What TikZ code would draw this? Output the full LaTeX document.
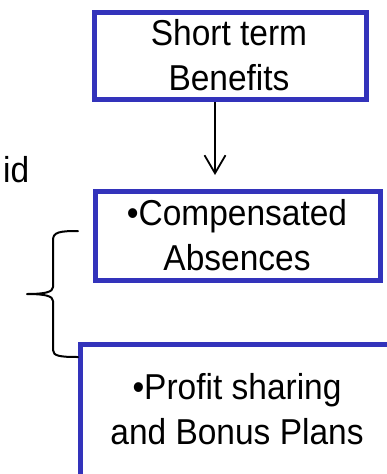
\documentclass[tikz,border=0pt]{standalone}
\usepackage{fontspec}
\setmainfont{Liberation Sans}[FakeStretch=0.93]
\usetikzlibrary{arrows.meta}
\definecolor{boxblue}{RGB}{51,51,187}
\begin{document}
\begin{tikzpicture}[x=1pt,y=-1pt,
  bluebox/.style={draw=boxblue,line width=5pt,rectangle,inner sep=0pt},
  boxtext/.style={align=center,inner sep=0pt,font=\fontsize{36}{45}\selectfont},
  conn/.style={line width=1.8pt,-{Straight Barb[length=18pt,width=21pt,line width=1.8pt]}},
  bracestyle/.style={line width=2pt,line cap=round,line join=round}]
\useasboundingbox[fill=white] (0,0) rectangle (387,474);
% boxes
\node[bluebox,minimum width=272pt,minimum height=87.5pt] (short) at (230,55.75) {};
\node[bluebox,minimum width=285pt,minimum height=89.5pt] (comp) at (238,235.75) {};
\node[bluebox,minimum width=340pt,minimum height=160pt] (bonus) at (250.5,424.5) {};
% texts
\node[boxtext] (shorttext) at (229,55.4) {Short term\\Benefits};
\node[boxtext] (comptext) at (237,234.9) {•Compensated\\Absences};
\node[boxtext] (bonustext) at (237,409.4) {•Profit sharing\\and Bonus Plans};
\node[boxtext,anchor=base west] (idtext) at (3,182) {id};
% arrow
\coordinate (arrowend) at (215,175);
\draw[conn] (short.south -| arrowend) -- (arrowend);
% brace
\draw[bracestyle] (78,231) .. controls (60,231) and (53,232) .. (53,240) -- (53,287)
  .. controls (53,292) and (45,294) .. (27,294)
  .. controls (45,294) and (53,296) .. (53,301) -- (53,350)
  .. controls (53,356) and (60,357) .. (78,357);
\end{tikzpicture}
\end{document}
